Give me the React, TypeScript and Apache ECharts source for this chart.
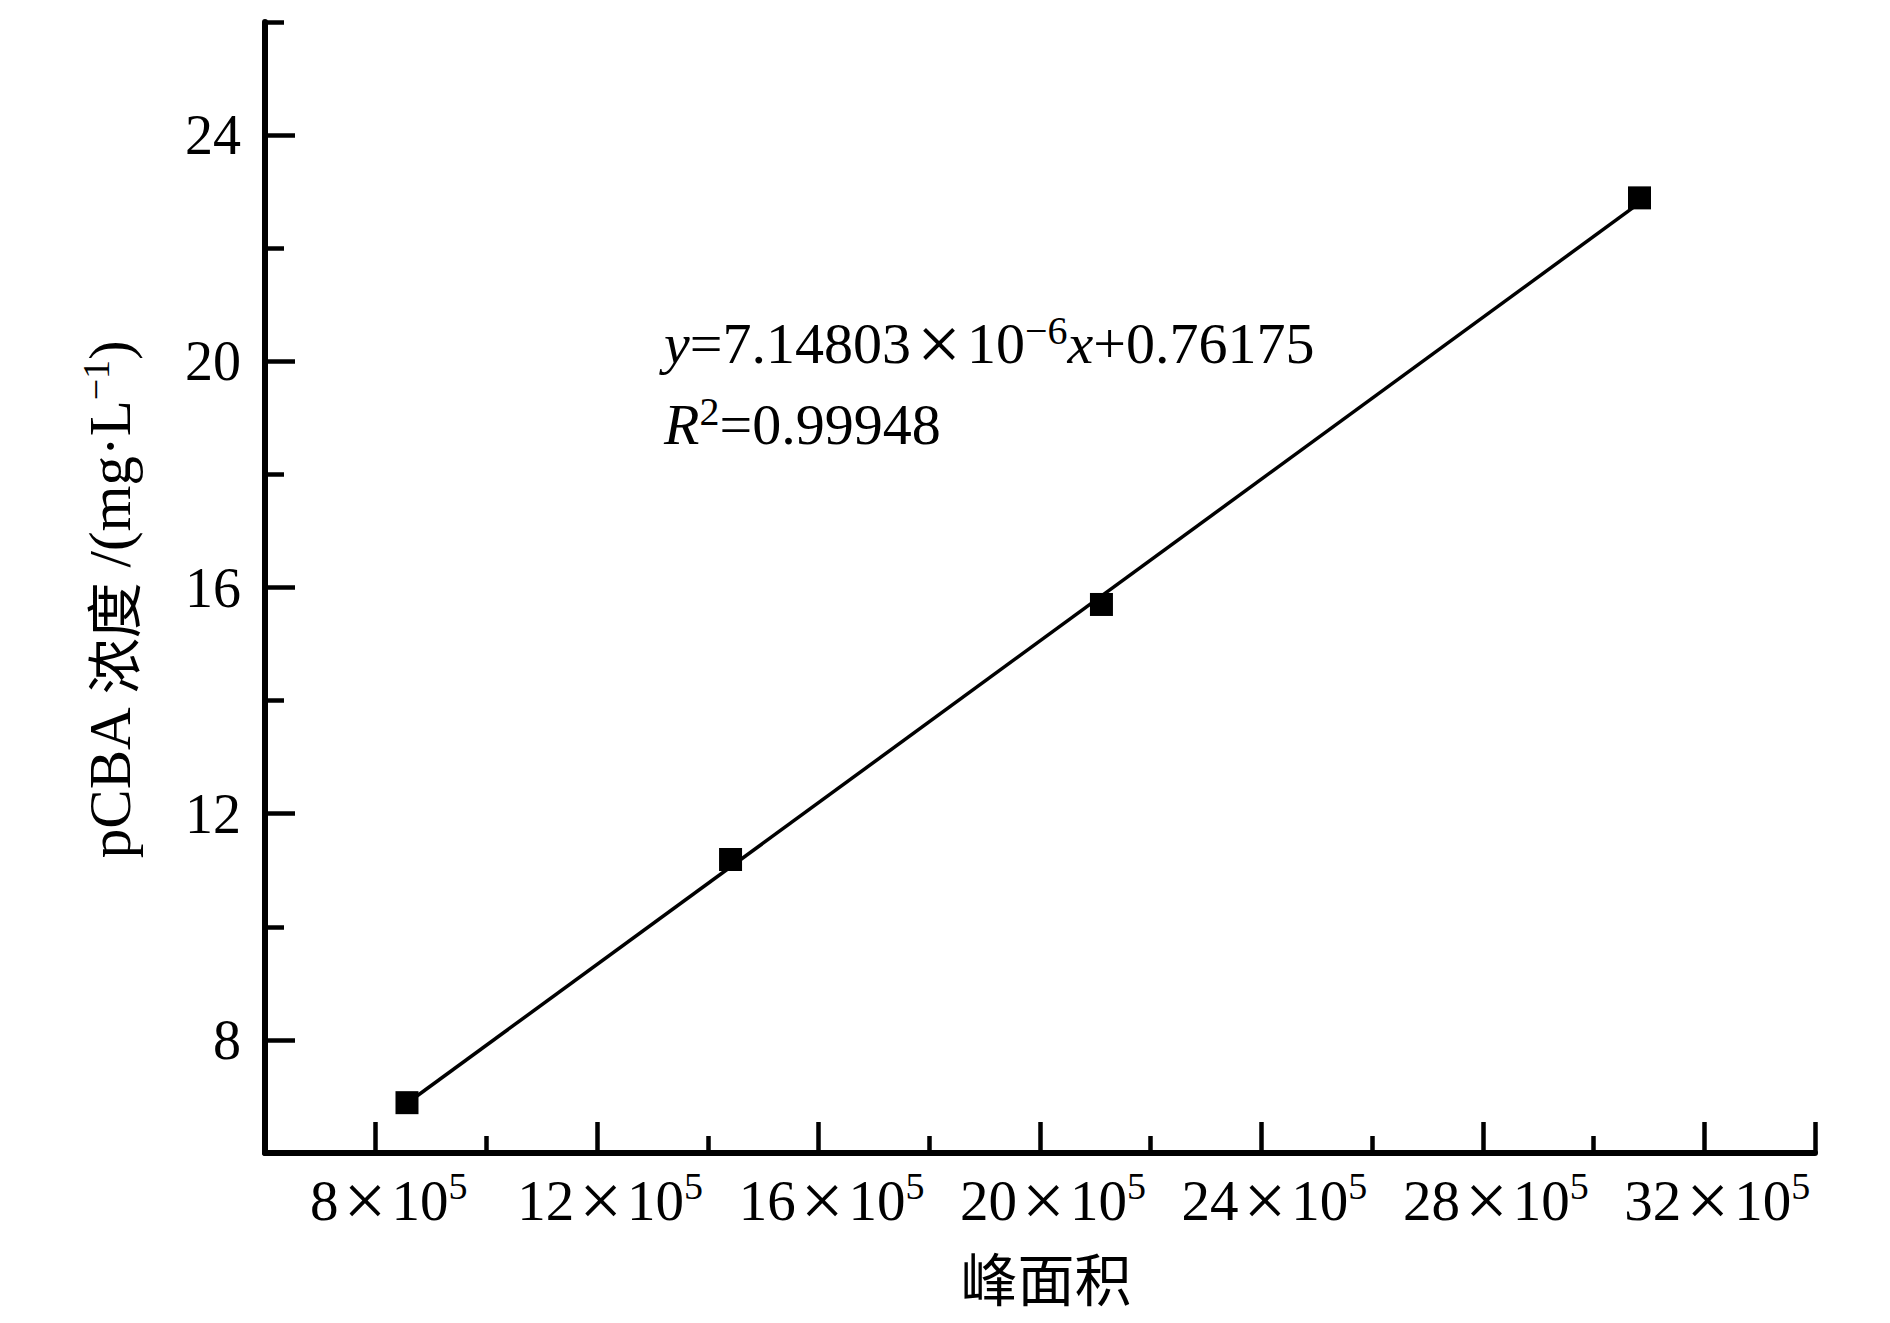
import React, { useEffect, useRef } from "react";
import * as echarts from "echarts";

// Data
const peakArea = [8.565e5, 14.41e5, 21.11e5, 30.83e5];
const concentration = [6.89, 11.19, 15.7, 22.89];
const fitLineX = [8.565e5, 30.83e5];
const fitLineY = [6.88, 22.8];

// Axis ticks
const xMajorTicks = [8e5, 12e5, 16e5, 20e5, 24e5, 28e5, 32e5, 34e5];
const xLabelValues = [8e5, 12e5, 16e5, 20e5, 24e5, 28e5, 32e5];
const xMinorTicks = [10e5, 14e5, 18e5, 22e5, 26e5, 30e5];
const yMajorTicks = [8, 12, 16, 20, 24];
const yMinorTicks = [10, 14, 18, 22, 26];

const SERIF = "'Liberation Serif', 'Times New Roman', serif";
const CJK = "'Noto Sans CJK SC', sans-serif";

export default function App() {
  const ref = useRef<HTMLDivElement>(null);

  useEffect(() => {
    document.body.style.margin = "0";
    if (!ref.current) return;
    const chart = echarts.init(ref.current, undefined, { renderer: "svg" });

    const numStyle = { fontFamily: SERIF, fontSize: 57, color: "#000", lineHeight: 66 };
    const supStyle = { fontFamily: SERIF, fontSize: 38, color: "#000", lineHeight: 66, verticalAlign: "top" as const };
    const timesStyle = { fontFamily: SERIF, fontSize: 76, color: "#000", lineHeight: 66, padding: [0, 5, 0, 5] };

    chart.setOption({
      animation: false,
      backgroundColor: "#fff",
      grid: { left: 265, right: 75, top: 22, bottom: 170, containLabel: false },
      xAxis: [
        {
          type: "value",
          min: 6e5,
          max: 34e5,
          position: "bottom",
          axisLine: { show: true, lineStyle: { color: "#000", width: 6, cap: "round" } },
          axisTick: {
            show: true,
            inside: true,
            length: 31,
            customValues: xMajorTicks,
            lineStyle: { color: "#000", width: 4.5 },
          },
          axisLabel: {
            show: true,
            margin: 14,
            padding: [0, 0, 0, 26],
            customValues: xLabelValues,
            formatter: (v: number) => `{n|${Math.round(v / 1e5)}}{x|×}{n|10}{s|5}`,
            rich: { n: numStyle, s: supStyle, x: timesStyle },
          },
          splitLine: { show: false },
        },
        {
          type: "value",
          min: 6e5,
          max: 34e5,
          position: "bottom",
          axisLine: { show: false },
          axisTick: {
            show: true,
            inside: true,
            length: 17,
            customValues: xMinorTicks,
            lineStyle: { color: "#000", width: 4.5 },
          },
          axisLabel: { show: false },
          splitLine: { show: false },
        },
      ],
      yAxis: [
        {
          type: "value",
          min: 6,
          max: 26,
          position: "left",
          axisLine: { show: true, lineStyle: { color: "#000", width: 6, cap: "round" } },
          axisTick: {
            show: true,
            inside: true,
            length: 30,
            customValues: yMajorTicks,
            lineStyle: { color: "#000", width: 4.5 },
          },
          axisLabel: {
            show: true,
            margin: 24,
            customValues: yMajorTicks,
            fontFamily: SERIF,
            fontSize: 56,
            color: "#000",
          },
          splitLine: { show: false },
        },
        {
          type: "value",
          min: 6,
          max: 26,
          position: "left",
          axisLine: { show: false },
          axisTick: {
            show: true,
            inside: true,
            length: 19,
            customValues: yMinorTicks,
            lineStyle: { color: "#000", width: 4.5 },
          },
          axisLabel: { show: false },
          splitLine: { show: false },
        },
      ],
      series: [
        {
          type: "line",
          xAxisIndex: 0,
          yAxisIndex: 0,
          data: fitLineX.map((x, i) => [x, fitLineY[i]]),
          showSymbol: false,
          symbol: "none",
          lineStyle: { color: "#000", width: 3.5 },
          z: 2,
        },
        {
          type: "scatter",
          xAxisIndex: 0,
          yAxisIndex: 0,
          data: peakArea.map((x, i) => [x, concentration[i]]),
          symbol: "rect",
          symbolSize: 23,
          itemStyle: { color: "#000", opacity: 1 },
          z: 3,
        },
      ],
      graphic: [
        {
          type: "text",
          x: 1046,
          y: 1276,
          style: {
            text: "峰面积",
            fontFamily: CJK,
            fontSize: 57,
            fill: "#000",
            align: "center",
            verticalAlign: "middle",
          },
        },
        {
          type: "text",
          x: 110,
          y: 600,
          rotation: Math.PI / 2,
          style: {
            text: "{n|pCBA }{c|浓度}{n| /(mg·L}{s|−1}{n|)}",
            align: "center",
            verticalAlign: "middle",
            rich: {
              n: { fontFamily: SERIF, fontSize: 59, fill: "#000", lineHeight: 66 },
              c: { fontFamily: CJK, fontSize: 56, fill: "#000", lineHeight: 66 },
              s: { fontFamily: SERIF, fontSize: 38, fill: "#000", lineHeight: 66, verticalAlign: "top" },
            },
          },
        },
        {
          type: "text",
          x: 664,
          y: 343,
          style: {
            text: "{i|y}{n|=7.14803}{x|×}{n|10}{s|−6}{i|x}{n|+0.76175}",
            align: "left",
            verticalAlign: "middle",
            rich: {
              n: { fontFamily: SERIF, fontSize: 58, fill: "#000", lineHeight: 66 },
              i: { fontFamily: SERIF, fontSize: 58, fill: "#000", lineHeight: 66, fontStyle: "italic" },
              x: { fontFamily: SERIF, fontSize: 78, fill: "#000", lineHeight: 66, padding: [0, 6, 0, 6] },
              s: { fontFamily: SERIF, fontSize: 40, fill: "#000", lineHeight: 66, verticalAlign: "top" },
            },
          },
        },
        {
          type: "text",
          x: 664,
          y: 424,
          style: {
            text: "{i|R}{s|2}{n|=0.99948}",
            align: "left",
            verticalAlign: "middle",
            rich: {
              n: { fontFamily: SERIF, fontSize: 58, fill: "#000", lineHeight: 66 },
              i: { fontFamily: SERIF, fontSize: 58, fill: "#000", lineHeight: 66, fontStyle: "italic" },
              s: { fontFamily: SERIF, fontSize: 40, fill: "#000", lineHeight: 66, verticalAlign: "top" },
            },
          },
        },
      ],
    });

    return () => chart.dispose();
  }, []);

  return <div ref={ref} style={{ width: 1890, height: 1323 }} />;
}
